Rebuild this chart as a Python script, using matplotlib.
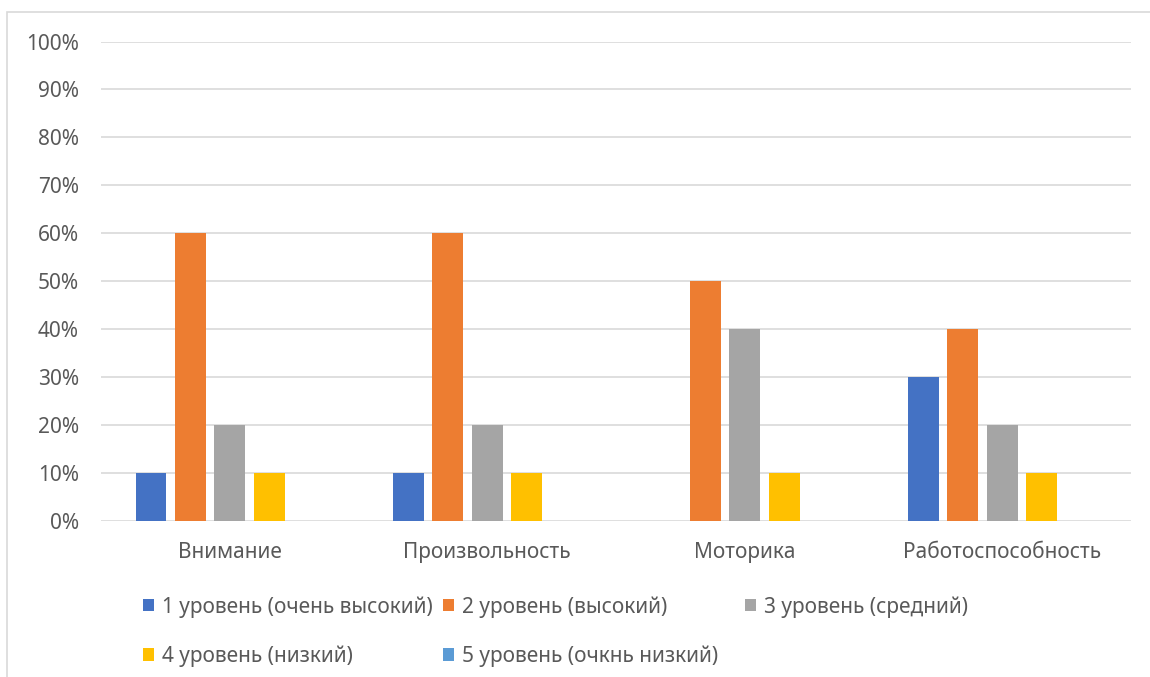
import numpy as np
import matplotlib.pyplot as plt
from matplotlib.patches import Rectangle
from matplotlib.ticker import PercentFormatter

plt.rcParams['font.family'] = ['Noto Sans', 'DejaVu Sans']

categories = ['Внимание', 'Произвольность', 'Моторика', 'Работоспособность']
series_names = ['1 уровень (очень высокий)', '2 уровень (высокий)',
                '3 уровень (средний)', '4 уровень (низкий)',
                '5 уровень (очкнь низкий)']
level1 = [0.10, 0.10, 0.00, 0.30]
level2 = [0.60, 0.60, 0.50, 0.40]
level3 = [0.20, 0.20, 0.40, 0.20]
level4 = [0.10, 0.10, 0.10, 0.10]
level5 = [0.00, 0.00, 0.00, 0.00]
colors = ['#4472C4', '#ED7D31', '#A5A5A5', '#FFC000', '#5B9BD5']

text_color = '#595959'
grid_color = '#D9D9D9'
W, H = 1150, 677

fig = plt.figure(figsize=(W / 100, H / 100), dpi=100)
# chart frame, cut off at right and bottom
fig.patches.append(Rectangle((7 / W, -0.1), 1.2, 1 - 12 / H + 0.1,
                             transform=fig.transFigure, fill=False,
                             edgecolor=grid_color, linewidth=1.2))

ax = fig.add_axes([101 / W, 1 - 521 / H, 1030 / W, 479.5 / H])

x = np.arange(len(categories))
step = 0.153
width = 0.12
for j, (name, vals) in enumerate(zip(series_names,
                                     [level1, level2, level3, level4, level5])):
    ax.bar(x + (j - 2) * step, vals, width, color=colors[j], label=name,
           zorder=3)

ax.set_xlim(-0.5, len(categories) - 0.5)
ax.set_ylim(0, 1)
ax.set_yticks(np.arange(0, 1.01, 0.1))
ax.yaxis.set_major_formatter(PercentFormatter(1.0, decimals=0))
ax.set_xticks(x)
ax.set_xticklabels(categories)
ax.grid(axis='y', color=grid_color, linewidth=1.2, zorder=0)
for side in ['top', 'right', 'left', 'bottom']:
    ax.spines[side].set_visible(False)
ax.tick_params(axis='both', length=0, labelsize=15, colors=text_color)
ax.tick_params(axis='y', pad=16)
ax.tick_params(axis='x', pad=15)

# legend laid out in rows: three columns, each its own small legend
handles, labels = ax.get_legend_handles_labels()
columns = [[0, 3], [1, 4], [2]]
col_x = [143, 443, 745]
for idx, cx in zip(columns, col_x):
    leg = fig.legend([handles[i] for i in idx], [labels[i] for i in idx],
                     loc='upper left', bbox_to_anchor=(cx / W, 1 - 596 / H),
                     frameon=False, fontsize=15, labelcolor=text_color,
                     handlelength=0.55, handleheight=0.55, handletextpad=0.35,
                     labelspacing=1.35, borderpad=0, borderaxespad=0)

fig.savefig('out.png', dpi=100, facecolor='white')
